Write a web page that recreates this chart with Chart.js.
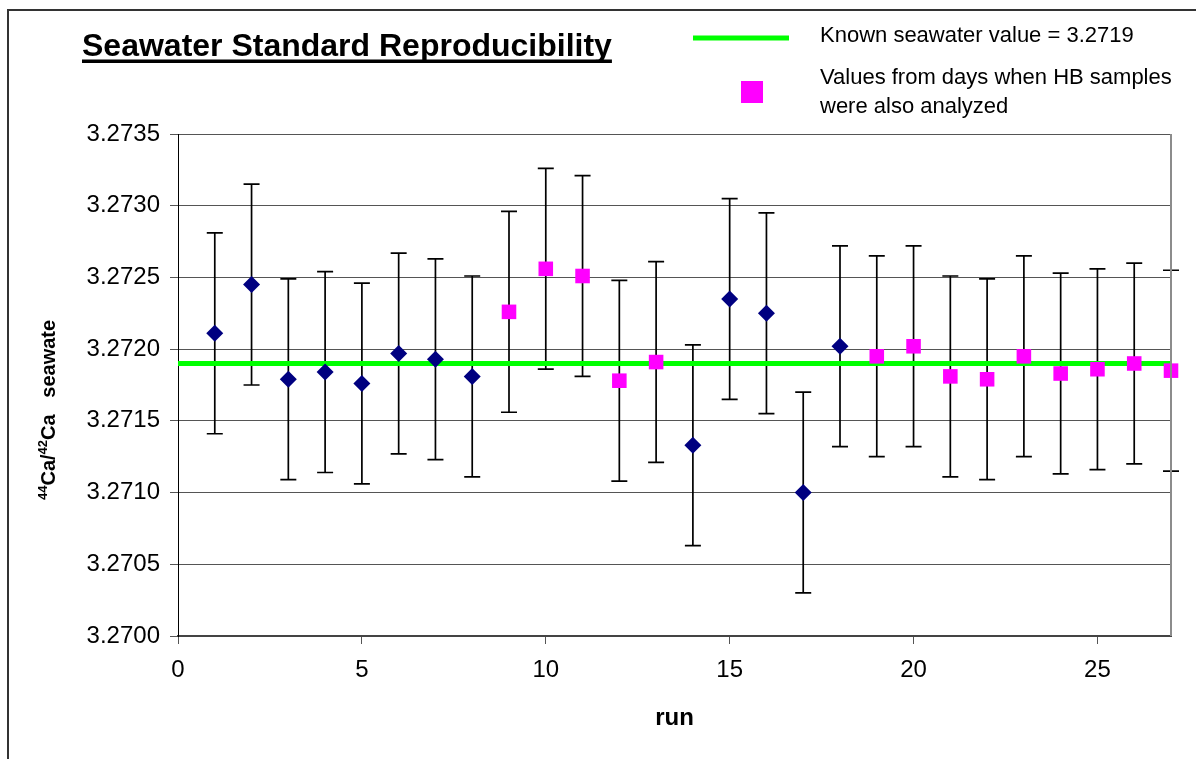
<!DOCTYPE html>
<html>
<head>
<meta charset="utf-8">
<script src="https://cdn.jsdelivr.net/npm/chart.js@4.4.1/dist/chart.umd.min.js"></script>
<style>
  html, body { margin: 0; padding: 0; background: #fff; }
  canvas { display: block; }
</style>
</head>
<body>
<canvas id="chart" width="1196" height="759"></canvas>
<script>
// data
const runs = [1, 2, 3, 4, 5, 6, 7, 8, 9, 10, 11, 12, 13, 14, 15, 16, 17, 18, 19, 20, 21, 22, 23, 24, 25, 26, 27];
const ratios = [3.27211, 3.27245, 3.27179, 3.27184, 3.27176, 3.27197, 3.27193, 3.27181, 3.27226, 3.27256,
                3.27251, 3.27178, 3.27191, 3.27133, 3.27235, 3.27225, 3.27100, 3.27202, 3.27195, 3.27202,
                3.27181, 3.27179, 3.27195, 3.27183, 3.27186, 3.27190, 3.27185];
const errors = [0.0007, 0.0007, 0.0007, 0.0007, 0.0007, 0.0007, 0.0007, 0.0007, 0.0007, 0.0007,
                0.0007, 0.0007, 0.0007, 0.0007, 0.0007, 0.0007, 0.0007, 0.0007, 0.0007, 0.0007,
                0.0007, 0.0007, 0.0007, 0.0007, 0.0007, 0.0007, 0.0007];
const hbRuns = [9, 10, 11, 12, 13, 19, 20, 21, 22, 23, 24, 25, 26, 27];
const knownValue = 3.2719;
const knownRange = [0, 27];
const xTicks = [0, 5, 10, 15, 20, 25];
const yTicks = [3.2700, 3.2705, 3.2710, 3.2715, 3.2720, 3.2725, 3.2730, 3.2735];

const FONT = "'Liberation Sans', Arial, Helvetica, sans-serif";

const errorBars = {
  id: 'errorBars',
  beforeDatasetsDraw(chart) {
    const ctx = chart.ctx;
    const xs = chart.scales.x, ys = chart.scales.y;
    ctx.save();
    ctx.strokeStyle = '#000';
    ctx.lineWidth = 1.7;
    runs.forEach((r, i) => {
      const x = xs.getPixelForValue(r);
      const top = ys.getPixelForValue(ratios[i] + errors[i]);
      const bot = ys.getPixelForValue(ratios[i] - errors[i]);
      ctx.beginPath();
      ctx.moveTo(x, top); ctx.lineTo(x, bot);
      ctx.moveTo(x - 8, top); ctx.lineTo(x + 8, top);
      ctx.moveTo(x - 8, bot); ctx.lineTo(x + 8, bot);
      ctx.stroke();
    });
    ctx.restore();
  }
};

const decorations = {
  id: 'decorations',
  beforeDraw(chart) {
    const ctx = chart.ctx;
    ctx.save();
    ctx.fillStyle = '#fff';
    ctx.fillRect(0, 0, chart.width, chart.height);
    ctx.restore();
  },
  afterDraw(chart) {
    const ctx = chart.ctx;
    const area = chart.chartArea;
    ctx.save();
    // outer frame (left and top only visible)
    ctx.strokeStyle = '#333';
    ctx.lineWidth = 2;
    ctx.beginPath();
    ctx.moveTo(8, chart.height); ctx.lineTo(8, 10); ctx.lineTo(chart.width, 10);
    ctx.stroke();

    // plot area right border
    ctx.strokeStyle = '#8c8c8c';
    ctx.lineWidth = 2;
    ctx.beginPath();
    ctx.moveTo(area.right, area.top); ctx.lineTo(area.right, area.bottom);
    ctx.stroke();

    // title, underlined
    ctx.fillStyle = '#000';
    ctx.font = 'bold 32px ' + FONT;
    ctx.textBaseline = 'alphabetic';
    const title = 'Seawater Standard Reproducibility';
    ctx.fillText(title, 82, 56);
    const tw = ctx.measureText(title).width;
    ctx.fillRect(82, 59.5, tw, 3.5);

    // legend
    ctx.strokeStyle = '#00ff00';
    ctx.lineWidth = 5;
    ctx.beginPath();
    ctx.moveTo(693, 38); ctx.lineTo(789, 38);
    ctx.stroke();
    ctx.fillStyle = '#ff00ff';
    ctx.fillRect(741, 81, 22, 22);
    ctx.fillStyle = '#000';
    ctx.font = '22px ' + FONT;
    ctx.fillText('Known seawater value = 3.2719', 820, 42);
    ctx.fillText('Values from days when HB samples', 820, 84);
    ctx.fillText('were also analyzed', 820, 113);

    // y axis title with superscripts
    const big = 'bold 20px ' + FONT, small = 'bold 13px ' + FONT;
    const parts = [['44', small, -8], ['Ca/', big, 0], ['42', small, -8], ['Ca', big, 0], ['   ', big, 0], ['seawate', big, 0]];
    ctx.translate(55, 500);
    ctx.rotate(-Math.PI / 2);
    let px = 0;
    parts.forEach(([t, f, dy]) => {
      ctx.font = f;
      ctx.fillText(t, px, dy);
      px += ctx.measureText(t).width;
    });
    ctx.restore();
  }
};

const hbPoints = hbRuns.map(r => ({ x: r, y: ratios[runs.indexOf(r)] }));
const allPoints = runs.map((r, i) => ({ x: r, y: ratios[i] }));

const ctx = document.getElementById('chart').getContext('2d');
const chart = new Chart(ctx, {
  type: 'scatter',
  data: {
    datasets: [
      {
        label: 'Known seawater value = 3.2719',
        type: 'line',
        data: knownRange.map(x => ({ x: x, y: knownValue })),
        borderColor: '#00ff00',
        borderWidth: 5,
        pointRadius: 0,
        order: 3
      },
      {
        label: 'runs',
        data: allPoints,
        pointStyle: 'rectRot',
        backgroundColor: '#000080',
        borderColor: '#000080',
        borderWidth: 0,
        pointRadius: c => hbRuns.includes(runs[c.dataIndex]) ? 0 : 8.5,
        order: 2,
        clip: false
      },
      {
        label: 'Values from days when HB samples were also analyzed',
        data: hbPoints,
        pointStyle: 'rect',
        backgroundColor: '#ff00ff',
        borderColor: '#ff00ff',
        borderWidth: 0,
        pointRadius: 10.3,
        order: 1,
        clip: false
      }
    ]
  },
  options: {
    responsive: false,
    animation: false,
    devicePixelRatio: 1,
    layout: {
      padding: { top: 134, right: 25, left: 0, bottom: 0 }
    },
    plugins: {
      legend: { display: false },
      tooltip: { enabled: false },
      title: { display: false }
    },
    scales: {
      x: {
        type: 'linear',
        min: 0,
        max: 27,
        afterBuildTicks: axis => { axis.ticks = xTicks.map(v => ({ value: v })); },
        afterFit: scale => { scale.height = 123; },
        ticks: {
          color: '#000',
          font: { family: FONT, size: 24 },
          padding: 12,
          maxRotation: 0,
          callback: v => String(v)
        },
        grid: {
          drawOnChartArea: false,
          tickLength: 8,
          tickColor: '#555'
        },
        border: { color: '#444', width: 2 },
        title: {
          display: true,
          text: 'run',
          color: '#000',
          font: { family: FONT, size: 24, weight: 'bold' },
          padding: { top: 0, bottom: 26 }
        }
      },
      y: {
        min: 3.2700,
        max: 3.2735,
        afterBuildTicks: axis => { axis.ticks = yTicks.map(v => ({ value: v })); },
        afterFit: scale => { scale.width = 178; },
        ticks: {
          color: '#000',
          font: { family: FONT, size: 24 },
          padding: 10,
          callback: v => Number(v).toFixed(4)
        },
        grid: {
          color: '#555',
          lineWidth: 1,
          tickLength: 8,
          tickColor: '#555'
        },
        border: { color: '#000', width: 1 }
      }
    }
  },
  plugins: [errorBars, decorations]
});
</script>
</body>
</html>
